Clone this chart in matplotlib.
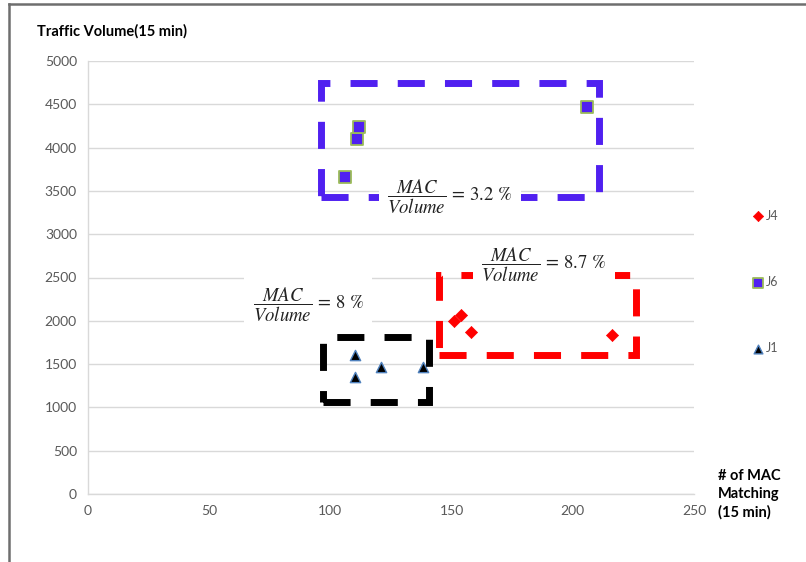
import matplotlib
matplotlib.use("Agg")
import matplotlib.pyplot as plt
from matplotlib.patches import Rectangle
from matplotlib.lines import Line2D

# ---- data ----
j4_x = [151, 154, 158, 216]
j4_y = [2000, 2065, 1875, 1836]
j6_x = [106, 111, 112, 206]
j6_y = [3655, 4105, 4235, 4465]
j1_x = [110, 110, 121, 138]
j1_y = [1610, 1355, 1470, 1470]
series_labels = ["J4", "J6", "J1"]
y_ticks = [0, 500, 1000, 1500, 2000, 2500, 3000, 3500, 4000, 4500, 5000]
x_ticks = [0, 50, 100, 150, 200, 250]
ratio_texts = ["3.2", "8", "8.7"]

plt.rcParams['font.family'] = ['Lato', 'DejaVu Sans']
plt.rcParams['mathtext.fontset'] = 'stix'

fig = plt.figure(figsize=(8.06, 5.62), dpi=100)
ax = fig.add_axes([88/806, 1-494/562, (694-88)/806, (494-61)/562])

blue = '#5020F0'
red = '#FF0000'
tick_c = '#595959'

ax.scatter(j4_x, j4_y, marker='D', s=38, color=red, edgecolors=red, linewidths=0.5,
           zorder=3, label=series_labels[0])
ax.scatter(j6_x, j6_y, marker='s', s=70, color=blue, edgecolors='#9BBB59', linewidths=1.3,
           zorder=3, label=series_labels[1])
ax.scatter(j1_x, j1_y, marker='^', s=55, color='black', edgecolors='#4F81BD', linewidths=1.0,
           zorder=3, label=series_labels[2])

ax.set_xlim(0, 250)
ax.set_ylim(0, 5000)
ax.set_xticks(x_ticks)
ax.set_yticks(y_ticks)
ax.tick_params(length=0, labelsize=10, colors=tick_c, pad=8)
ax.grid(axis='y', color='#D9D9D9', linewidth=1.0, zorder=0)
ax.set_axisbelow(True)
for s in ['top', 'right']:
    ax.spines[s].set_visible(False)
for s in ['left', 'bottom']:
    ax.spines[s].set_color('#D9D9D9')
    ax.spines[s].set_linewidth(1.0)

# dashed highlight rectangles (annotation shapes)
rects = [
    ((96.1, 3430), 114.7, 1316, blue),
    ((144.6, 1605), 81.5, 924, red),
    ((96.9, 1062), 43.8, 751, 'black'),
]
for (xy, w, h, c) in rects:
    r = Rectangle(xy, w, h, fill=False, edgecolor=c, linewidth=5,
                  linestyle=(0, (3.9, 2.9)), zorder=4, joinstyle='miter', capstyle='butt')
    ax.add_patch(r)

# ratio labels
label_pos = [(149.3, 3430), (90.8, 2182), (188.1, 2644)]
for (x, y), t in zip(label_pos, ratio_texts):
    ax.text(x, y, r'$\dfrac{MAC}{Volume}\,=\,' + t + r'\ \%$', fontsize=13.5,
            ha='center', va='center', zorder=5, color='#222222',
            bbox=dict(boxstyle='square,pad=0.45', facecolor='white', edgecolor='none'))

# titles
fig.text(37/806, 1-31/562, 'Traffic Volume(15 min)', fontsize=10.5, fontweight='bold',
         ha='left', va='center', color='black')
fig.text(718/806, 1-494/562, '# of MAC\nMatching\n(15 min)', fontsize=10.5, fontweight='bold',
         ha='left', va='center', color='black', linespacing=1.35)

# legend
leg = fig.legend(loc='center left', bbox_to_anchor=(747/806, 1-282/562), frameon=False,
                 fontsize=9, labelspacing=4.35, handlelength=0.8, handletextpad=0.2,
                 markerscale=0.85, labelcolor=tick_c, borderpad=0)

# figure border (left and top)
fig.add_artist(Line2D([8.5/806, 8.5/806], [0, 1-3.5/562], transform=fig.transFigure,
                      color='#6E6E6E', linewidth=1.8))
fig.add_artist(Line2D([8.5/806, 1], [1-3.5/562, 1-3.5/562], transform=fig.transFigure,
                      color='#6E6E6E', linewidth=1.8))

fig.savefig('out.png', dpi=100)
